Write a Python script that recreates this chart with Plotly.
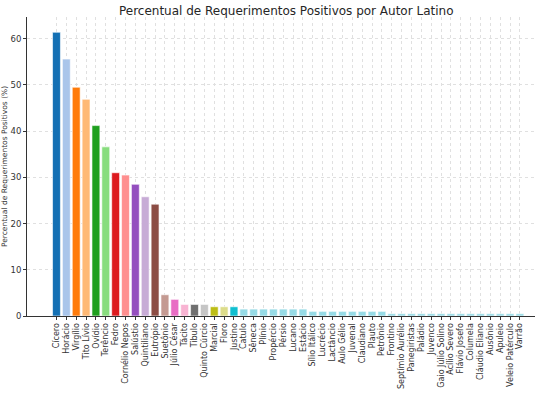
import plotly.graph_objects as go

autores = ["Cícero", "Horácio", "Virgílio", "Tito Lívio", "Ovídio", "Terêncio", "Fedro",
           "Cornélio Nepos", "Salústio", "Quintiliano", "Eutrópio", "Suetônio", "Júlio César",
           "Tácito", "Tibulo", "Quinto Cúrcio", "Marcial", "Floro", "Justino", "Catulo",
           "Sêneca", "Plínio", "Propércio", "Pérsio", "Lucano", "Estácio", "Sílio Itálico",
           "Lucrécio", "Lactâncio", "Aulo Gélio", "Juvenal", "Claudiano", "Plauto", "Petrônio",
           "Frontino", "Septímio Aurélio", "Panegiristas", "Paládio", "Juvenco",
           "Gaio Júlio Solino", "Acílio Severo", "Flávio Josefo", "Columela", "Cláudio Eliano",
           "Ausônio", "Apuleio", "Veleio Patérculo", "Varrão"]

percentuais = [61.4, 55.6, 49.5, 46.9, 41.2, 36.6, 31.0, 30.5, 28.5, 25.8, 24.2, 4.6, 3.6,
               2.5, 2.5, 2.5, 2.0, 2.0, 2.0, 1.5, 1.5, 1.5, 1.5, 1.5, 1.5, 1.5, 1.0, 1.0,
               1.0, 1.0, 1.0, 1.0, 1.0, 1.0, 0.5, 0.5, 0.5, 0.5, 0.5, 0.5, 0.5, 0.5, 0.5,
               0.5, 0.5, 0.5, 0.5, 0.5]

paleta = ["#1470b4", "#a9c5ea", "#ff7b0a", "#ffb974", "#1fa01f", "#88dd7e", "#dd1a1f",
          "#ff8f8f", "#944fbf", "#c7abd6", "#8c4d44", "#c49a92", "#e86cc4", "#f8b3d2",
          "#707070", "#c5c5c5", "#bcbd15", "#dcdc8a", "#10bfd0", "#96dbe6"]
cores = [paleta[i] if i < len(paleta) else paleta[-1] for i in range(len(autores))]

x = list(range(len(autores)))

fig = go.Figure(go.Bar(
    x=x, y=percentuais,
    marker=dict(color=cores, line=dict(color="rgba(255,255,255,0.6)", width=1)),
    width=0.8,
))

font = "DejaVu Sans, sans-serif"
fig.update_layout(
    width=535, height=396,
    margin=dict(l=27, r=0, t=17, b=80),
    plot_bgcolor="white", paper_bgcolor="white",
    font=dict(family=font, size=8, color="#333333"),
    title=dict(text="Percentual de Requerimentos Positivos por Autor Latino",
               x=0.535, xanchor="center", y=0.972, yanchor="middle",
               font=dict(size=12, color="#262626")),
    showlegend=False,
)
fig.update_xaxes(
    range=[-2.99, 48.53], tickmode="array", tickvals=x, ticktext=autores,
    tickangle=-90, showgrid=True, gridcolor="#e0e0e0", griddash="dot", gridwidth=0.8,
    showline=True, linecolor="#333333", linewidth=1, ticks="outside", ticklen=3,
    tickcolor="#333333", tickfont=dict(size=8, color="#333333"), zeroline=False,
    automargin=False, ticklabeloverflow="allow",
)
fig.update_yaxes(
    range=[0, 64.7], tickvals=[0, 10, 20, 30, 40, 50, 60],
    showgrid=True, gridcolor="#e0e0e0", griddash="dot", gridwidth=0.8,
    showline=True, linecolor="#333333", linewidth=1, ticks="outside", ticklen=3,
    tickcolor="#333333", tickfont=dict(size=8.5, color="#333333"), zeroline=False,
    automargin=False,
    title=dict(text="Percentual de Requerimentos Positivos (%)", font=dict(size=7.5), standoff=2),
)

fig.write_html("out.html", config={"displayModeBar": False},
               post_script="document.body.style.margin='0';")
